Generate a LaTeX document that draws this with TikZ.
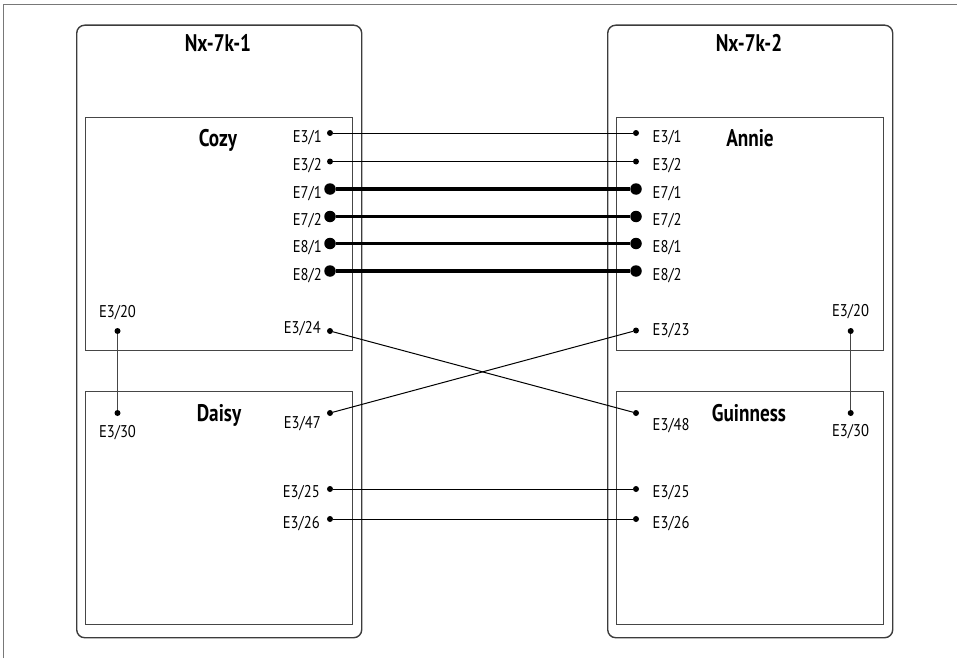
\documentclass[tikz,border=0pt]{standalone}
\usepackage{fontspec}
\setmainfont{PT Sans}[FakeStretch=0.86]
\newfontfamily\titlefont{PT Sans}[FakeStretch=0.8]
\definecolor{framegray}{RGB}{120,120,120}
\definecolor{boxgray}{RGB}{60,60,60}
\definecolor{cardgray}{RGB}{70,70,70}
\begin{document}
\begin{tikzpicture}[x=1pt,y=-1pt,
  chassis/.style={draw=boxgray,line width=1.4pt,rounded corners=8pt,inner sep=0pt,anchor=north west},
  card/.style={draw=cardgray,line width=1.4pt,inner sep=0pt,anchor=north west},
  title/.style={font=\titlefont\bfseries\fontsize{24}{24}\selectfont,inner sep=0pt,anchor=base},
  lbl/.style={font=\fontsize{17}{17}\selectfont,inner sep=0pt},
  pdot/.style={circle,fill=black,inner sep=0pt,minimum size=6pt},
  bdot/.style={circle,fill=black,inner sep=0pt,minimum size=11.5pt},
  thin/.style={line width=1pt},
  thick link/.style={line width=3.2pt}
]
\useasboundingbox (0,0) rectangle (957,658);
% frame
\draw[line width=1pt,framegray] (3.5,658) -- (3.5,4.5) -- (957,4.5);
% chassis
\node[chassis,minimum width=285pt,minimum height=612.5pt] (nx1) at (76,24.5) {};
\node[chassis,minimum width=285pt,minimum height=612.5pt] (nx2) at (607,24.5) {};
\node[title] (t1) at (218,52) {Nx-7k-1};
\node[title] (t2) at (749,52) {Nx-7k-2};
% cards
\node[card,minimum width=267pt,minimum height=233pt] (cozy) at (85,117) {};
\node[card,minimum width=267pt,minimum height=233pt] (daisy) at (85,391) {};
\node[card,minimum width=267pt,minimum height=233pt] (annie) at (616,117) {};
\node[card,minimum width=267pt,minimum height=233pt] (guin) at (616,391) {};
\node[title] (tc) at (218,146) {Cozy};
\node[title] (ta) at (750,146) {Annie};
\node[title] (td) at (219,421) {Daisy};
\node[title] (tg) at (749,421) {Guinness};
% port dots
\node[pdot] (L31) at (330,133) {};
\node[pdot] (L32) at (330,161.5) {};
\node[bdot] (L71) at (330,189) {};
\node[bdot] (L72) at (330,216.5) {};
\node[bdot] (L81) at (330,243.5) {};
\node[bdot] (L82) at (330,271) {};
\node[pdot] (R31) at (636,133) {};
\node[pdot] (R32) at (636,161.5) {};
\node[bdot] (R71) at (636,189) {};
\node[bdot] (R72) at (636,216.5) {};
\node[bdot] (R81) at (636,243.5) {};
\node[bdot] (R82) at (636,271) {};
\node[pdot] (L320) at (117.5,331) {};
\node[pdot] (L330) at (117.5,413) {};
\node[pdot] (L324) at (330,331) {};
\node[pdot] (L347) at (330,413) {};
\node[pdot] (R323) at (636,330.5) {};
\node[pdot] (R348) at (636,413) {};
\node[pdot] (R320) at (850.7,331) {};
\node[pdot] (R330) at (850.7,413) {};
\node[pdot] (L325) at (330,489) {};
\node[pdot] (L326) at (330,519) {};
\node[pdot] (R325) at (636,489) {};
\node[pdot] (R326) at (636,519) {};
% labels left
\node[lbl,anchor=base east] at (322,142) {E3/1};
\node[lbl,anchor=base east] at (322,170.5) {E3/2};
\node[lbl,anchor=base east] at (322,198) {E7/1};
\node[lbl,anchor=base east] at (322,225.5) {E7/2};
\node[lbl,anchor=base east] at (322,252.5) {E8/1};
\node[lbl,anchor=base east] at (322,280) {E8/2};
\node[lbl,anchor=base east] at (321,333) {E3/24};
\node[lbl,anchor=base east] at (321,428) {E3/47};
\node[lbl,anchor=base east] at (320,497.5) {E3/25};
\node[lbl,anchor=base east] at (320,528) {E3/26};
\node[lbl,anchor=base] at (117.5,317.3) {E3/20};
\node[lbl,anchor=base] at (117.5,437) {E3/30};
% labels right
\node[lbl,anchor=base west] at (652.5,142) {E3/1};
\node[lbl,anchor=base west] at (652.5,170.5) {E3/2};
\node[lbl,anchor=base west] at (652.5,198) {E7/1};
\node[lbl,anchor=base west] at (652.5,225.5) {E7/2};
\node[lbl,anchor=base west] at (652.5,252.5) {E8/1};
\node[lbl,anchor=base west] at (652.5,280) {E8/2};
\node[lbl,anchor=base west] at (652.5,335) {E3/23};
\node[lbl,anchor=base west] at (652.5,430) {E3/48};
\node[lbl,anchor=base west] at (652.5,497.5) {E3/25};
\node[lbl,anchor=base west] at (652.5,528) {E3/26};
\node[lbl,anchor=base] at (850.5,316.7) {E3/20};
\node[lbl,anchor=base] at (850.5,436.7) {E3/30};
% links
\draw[thin] (L31) -- (R31);
\draw[thin] (L32) -- (R32);
\draw[thick link] (L71) -- (R71);
\draw[thick link] (L72) -- (R72);
\draw[thick link] (L81) -- (R81);
\draw[thick link] (L82) -- (R82);
\draw[thin] (L324) -- (R348);
\draw[thin] (L347) -- (R323);
\draw[thin] (L325) -- (R325);
\draw[thin] (L326) -- (R326);
\draw[line width=1.3pt,cardgray] (L320) -- (L330);
\draw[line width=1.3pt,cardgray] (R320) -- (R330);
\end{tikzpicture}
\end{document}
